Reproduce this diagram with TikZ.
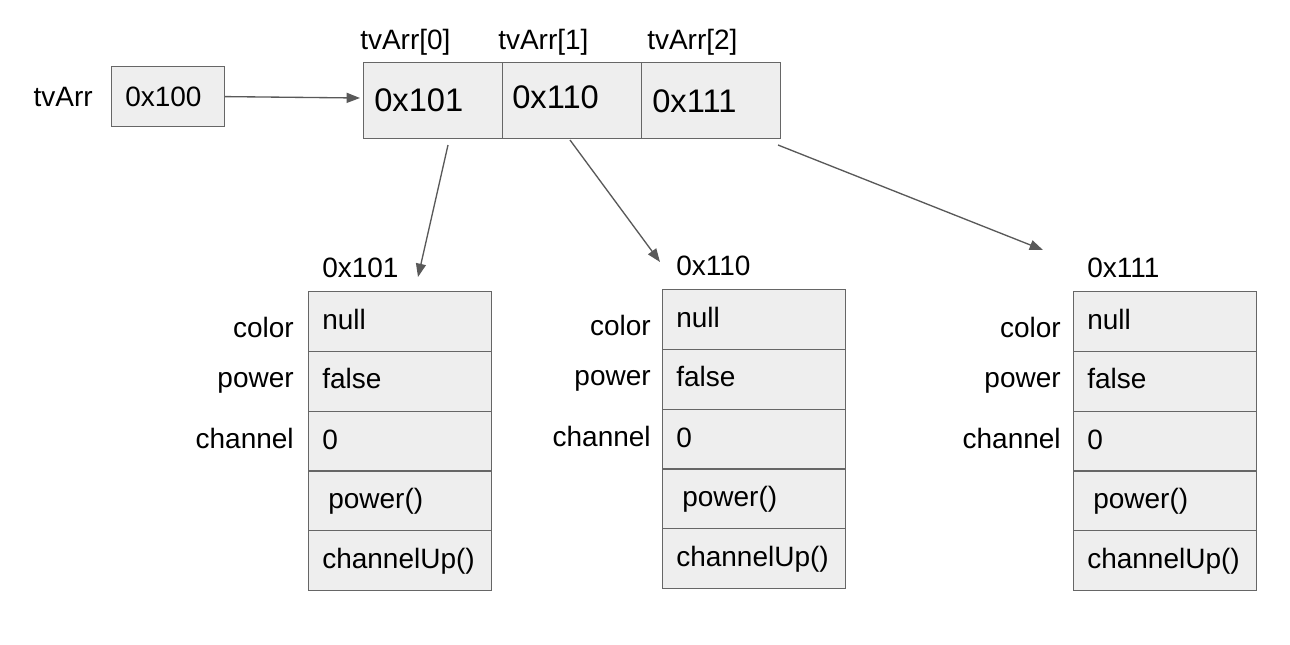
\documentclass[tikz,border=0pt]{standalone}
\usepackage{fontspec}
\setmainfont{Liberation Sans}
\usetikzlibrary{arrows.meta}
\definecolor{cellfill}{HTML}{EEEEEE}
\definecolor{cellline}{HTML}{666666}
\definecolor{arrowgray}{HTML}{595959}
\tikzset{
 cell/.style={draw=cellline, fill=cellfill, line width=0.9pt, inner sep=0pt, anchor=north west, minimum width=137.25pt, minimum height=44.85pt},
 txt/.style={font=\fontsize{21}{25}\selectfont, inner sep=0pt, anchor=base west},
 lbl/.style={font=\fontsize{21}{25}\selectfont, inner sep=0pt, anchor=base east},
 big/.style={font=\fontsize{24.5}{29}\selectfont, inner sep=0pt, anchor=base west},
 arrcell/.style={draw=cellline, fill=cellfill, line width=0.9pt, inner sep=0pt, anchor=north west, minimum width=104.25pt, minimum height=57pt},
 ptrbox/.style={draw=cellline, fill=cellfill, line width=0.9pt, inner sep=0pt, anchor=north west, minimum width=84.75pt, minimum height=45pt},
 ptr/.style={draw=arrowgray, line width=1pt, -{Triangle[length=10pt,width=7.5pt]}}
}
\newcommand\tvobject[5]{%
 \foreach \i in {0,...,4}{\node[cell] (#1r\i) at (#2,{#3+59.8*\i}) {};}
 \node[txt] (#1t) at (#2+14,#3-14) {#4};
 \node[txt] (#1v1) at (#2+14,#3+38) {null};
 \node[txt] (#1v2) at (#2+14,#3+97) {false};
 \node[txt] (#1v3) at (#2+14,#3+158) {0};
 \node[txt] (#1v4) at (#2+20,#3+217) {power()};
 \node[txt] (#1v5) at (#2+14,#3+277) {channelUp()};
 \node[lbl] (#1l1) at (#2-#5,#3+46) {color};
 \node[lbl] (#1l2) at (#2-#5,#3+96) {power};
 \node[lbl] (#1l3) at (#2-#5,#3+157) {channel};
}
\begin{document}
\begin{tikzpicture}[x=0.75pt,y=-0.75pt]
\useasboundingbox (0,0) rectangle (1290,644);
% pointer variable
\node[lbl] (tvlbl) at (93,106) {tvArr};
\node[ptrbox] (ptr) at (111,66) {};
\node[txt] (ptrtxt) at (125,106) {0x100};
% array
\node[arrcell] (a0) at (363,62) {};
\node[arrcell] (a1) at (502,62) {};
\node[arrcell] (a2) at (641,62) {};
\node[big] (a0t) at (374,111) {0x101};
\node[big] (a1t) at (512,108) {0x110};
\node[big] (a2t) at (652,112) {0x111};
\node[txt] (i0) at (360,49) {tvArr[0]};
\node[txt] (i1) at (498,49) {tvArr[1]};
\node[txt] (i2) at (647,49) {tvArr[2]};
% objects
\tvobject{b}{308}{291}{0x101}{14}
\tvobject{c}{662}{289}{0x110}{11}
\tvobject{d}{1073}{291}{0x111}{12}
% connectors
\coordinate (arrin) at (360,98);
\draw[ptr] (ptr.east) -- (arrin);
\coordinate (s0) at (448,145);
\coordinate (e0) at (418,277);
\coordinate (s1) at (570,140);
\coordinate (e1) at (660,262);
\coordinate (s2) at (778,145);
\coordinate (e2) at (1043,250);
\draw[ptr] (s0) -- (e0);
\draw[ptr] (s1) -- (e1);
\draw[ptr] (s2) -- (e2);
\end{tikzpicture}
\end{document}
